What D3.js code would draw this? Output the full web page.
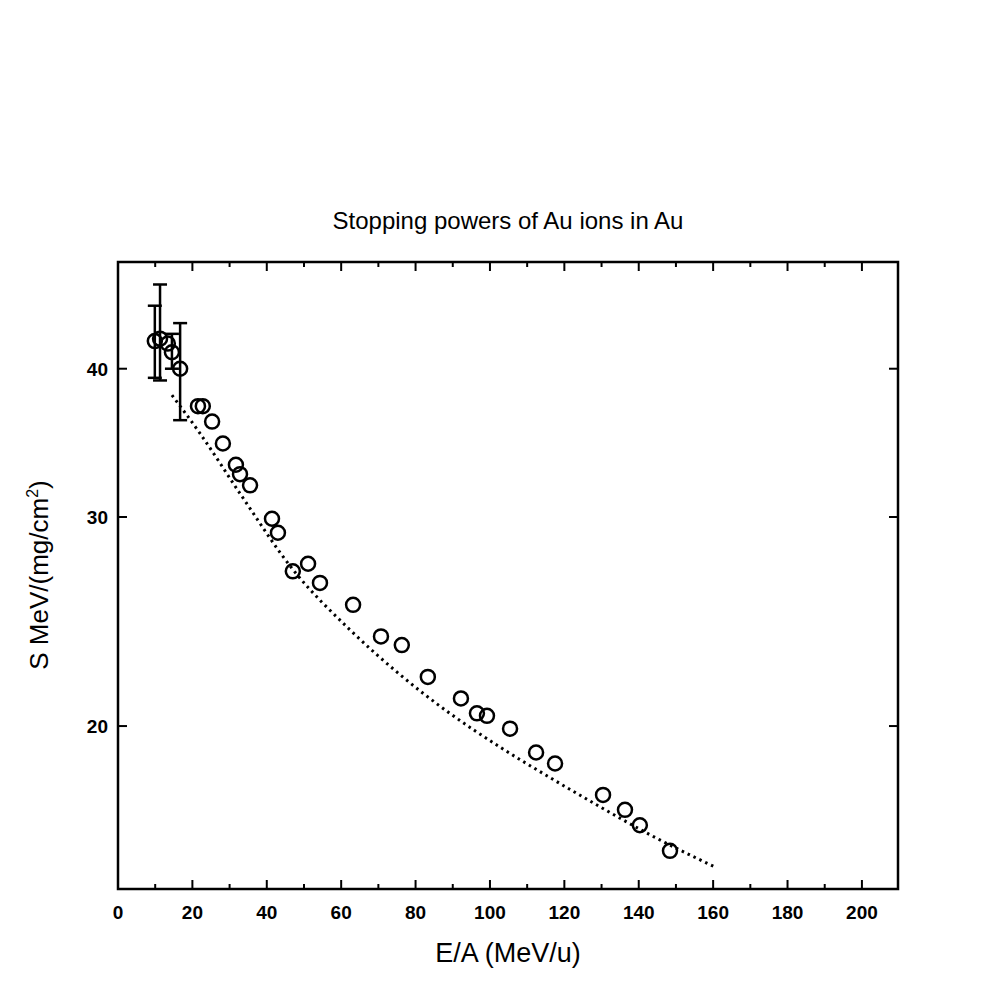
<!DOCTYPE html><html><head><meta charset="utf-8"><script src="https://d3js.org/d3.v7.min.js"></script>
<style>body{margin:0;background:#fff}</style></head><body><svg id="c" width="986" height="994"></svg><script>
const xs=[9.9,11.3,13.4,14.5,16.7,21.5,22.8,25.3,28.2,31.7,32.8,35.5,41.4,43.0,47.0,51.1,54.3,63.2,70.7,76.3,83.3,92.2,96.5,99.2,105.4,112.4,117.5,130.4,136.3,140.3,148.4];
const ys=[42.2,42.4,42.0,41.3,40.0,37.2,37.2,36.1,34.6,33.2,32.6,31.9,29.9,29.1,27.0,27.4,26.4,25.3,23.8,23.4,22.0,21.1,20.5,20.4,19.9,19.0,18.6,17.5,17.0,16.5,15.7];
const errIdx=[0,1,3,4];
const errLo=[39.3,39.1,40.0,36.2];
const errHi=[45.2,47.1,42.8,43.7];
const curveX=[14.5,22,32.8,47,62.4,75.8,89.2,102.7,116.1,129.6,143,160.8];
const curveY=[38.0,35.3,31.4,27.1,24.1,22.1,20.5,19.2,18.1,17.1,16.2,15.2];
const xTicks=[0,20,40,60,80,100,120,140,160,180,200];
const yTicks=[20,30,40];
const svg=d3.select("#c");
const L=118,R=898,T=262,B=889;
const x=d3.scaleLinear().domain([0,209.7]).range([L,R]);
const y=d3.scaleLog().domain([14.58,49.2]).range([B,T]);
const f="Liberation Sans, DejaVu Sans, sans-serif";
svg.append("rect").attr("x",L).attr("y",T).attr("width",R-L).attr("height",B-T).attr("fill","none").attr("stroke","#000").attr("stroke-width",2.5);
const minor=d3.range(0,210,10);
minor.forEach(v=>{const len=v%20===0?9:5;
 svg.append("line").attr("x1",x(v)).attr("x2",x(v)).attr("y1",B).attr("y2",B-len).attr("stroke","#000").attr("stroke-width",2);
 svg.append("line").attr("x1",x(v)).attr("x2",x(v)).attr("y1",T).attr("y2",T+len).attr("stroke","#000").attr("stroke-width",2);});
xTicks.forEach(v=>svg.append("text").attr("x",x(v)).attr("y",919).attr("text-anchor","middle").attr("font-family",f).attr("font-weight","bold").attr("font-size",19).text(v));
yTicks.forEach(v=>{
 svg.append("line").attr("x1",L).attr("x2",L+9).attr("y1",y(v)).attr("y2",y(v)).attr("stroke","#000").attr("stroke-width",2);
 svg.append("line").attr("x1",R).attr("x2",R-9).attr("y1",y(v)).attr("y2",y(v)).attr("stroke","#000").attr("stroke-width",2);
 svg.append("text").attr("x",L-10).attr("y",y(v)+7).attr("text-anchor","end").attr("font-family",f).attr("font-weight","bold").attr("font-size",19).text(v);});
svg.append("path").datum(curveX.map((d,i)=>[d,curveY[i]])).attr("d",d3.line().x(d=>x(d[0])).y(d=>y(d[1])).curve(d3.curveMonotoneX))
 .attr("fill","none").attr("stroke","#000").attr("stroke-width",3).attr("stroke-dasharray","2.5,4").attr("stroke-linecap","butt");
errIdx.forEach((k,i)=>{const cx=x(xs[k]);
 svg.append("line").attr("x1",cx).attr("x2",cx).attr("y1",y(errLo[i])).attr("y2",y(errHi[i])).attr("stroke","#000").attr("stroke-width",2.5);
 [errLo[i],errHi[i]].forEach(v=>svg.append("line").attr("x1",cx-7).attr("x2",cx+7).attr("y1",y(v)).attr("y2",y(v)).attr("stroke","#000").attr("stroke-width",2.5));});
svg.selectAll("circle.p").data(xs).enter().append("circle").attr("cx",d=>x(d)).attr("cy",(d,i)=>y(ys[i])).attr("r",7).attr("fill","none").attr("stroke","#000").attr("stroke-width",2.5);
svg.append("text").attr("x",508).attr("y",229).attr("text-anchor","middle").attr("font-family",f).attr("font-size",24).text("Stopping powers of Au ions in Au");
svg.append("text").attr("x",508).attr("y",962).attr("text-anchor","middle").attr("font-family",f).attr("font-size",27).text("E/A (MeV/u)");
const yl=svg.append("text").attr("transform","translate(48,575) rotate(-90)").attr("text-anchor","middle").attr("font-family",f).attr("font-size",26);
yl.append("tspan").text("S MeV/(mg/cm");yl.append("tspan").attr("dy",-10).attr("font-size",16).text("2");yl.append("tspan").attr("dy",10).text(")");
</script></body></html>
